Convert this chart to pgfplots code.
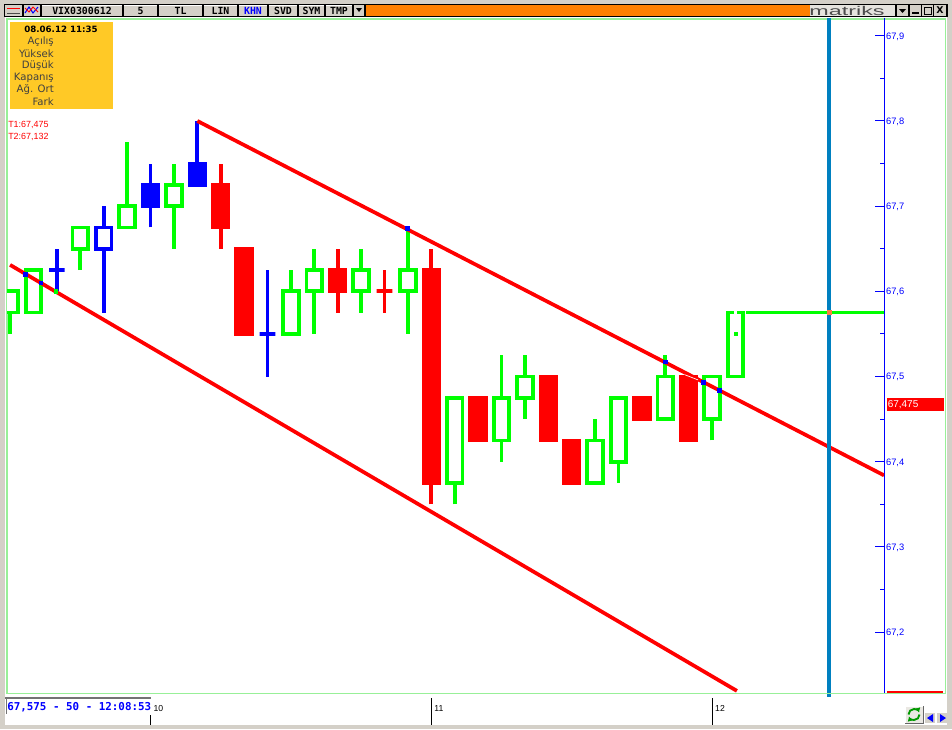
\documentclass[border=0pt]{standalone}
\usepackage{fontspec}
\usepackage{graphicx}
\usepackage{pgfplots}
\pgfplotsset{compat=1.18}
\usetikzlibrary{arrows.meta}
\setmainfont{Liberation Sans}
\newfontfamily\dejavu{DejaVu Sans}
\newfontfamily\mono{DejaVu Sans Mono}

\definecolor{cgreen}{HTML}{00FF00}
\definecolor{cblue}{HTML}{0000FF}
\definecolor{cred}{HTML}{FF0000}
\definecolor{vline}{HTML}{0080C0}
\definecolor{panel}{HTML}{D4D0C8}
\definecolor{infobox}{HTML}{FFC926}
\definecolor{barorange}{HTML}{FF8000}
\definecolor{framegreen}{HTML}{98F098}
\definecolor{crossing}{HTML}{FF8040}

% colour, fill, bar, low, body bottom, body top, high
\newcommand{\candle}[7]{%
  \pgfmathsetmacro\xa{#3-0.335}\pgfmathsetmacro\xb{#3+0.335}%
  \addplot[#1, line width=2.8pt] coordinates {(#3,#4)(#3,#7)};
  \addplot[draw=#1, fill=#2, line width=2.8pt, line join=miter]
    coordinates {(\xa,#5)(\xb,#5)(\xb,#6)(\xa,#6)} -- cycle;}
% toolbar button: left, right, text
\newcommand{\btn}[4][black]{%
  \fill[panel] (#2,5) rectangle (#3,16);
  \draw[white] (#2,5) -- (#3,5);
  \node[text=#1, font=\mono\bfseries\fontsize{7.4}{8}\selectfont, inner sep=0pt]
    at ({(#2+#3)/2},10.5) {#4};}

\begin{document}
\begin{tikzpicture}[x=0.75pt, y=-0.75pt]
\useasboundingbox (0,0) rectangle (952,729);
\fill[panel] (0,0) rectangle (952,729);
\fill[white] (5,17) rectangle (947,725);
\draw[framegreen, line width=1pt] (7,19) rectangle (945.5,693.5);

\begin{axis}[
  at={(5.25pt,-519.75pt)}, anchor=south west,
  scale only axis, width=657.75pt, height=506.25pt,
  xmin=-6.132, xmax=31.346, ymin=67.1285, ymax=67.9208,
  axis y line=right, axis x line=bottom,
  y axis line style={cblue, -, line width=0.75pt},
  x axis line style={draw=none},
  tick align=inside,
  ytick={67.2,67.3,67.4,67.5,67.6,67.7,67.8,67.9},
  minor y tick num=1,
  ytick style={cblue, line width=0.75pt},
  minor tick length=3pt,
  major tick length=6.75pt,
  yticklabel style={text=cblue, font=\fontsize{7}{8}\selectfont, anchor=west, xshift=-2pt, yshift=-0.6pt,
    /pgf/number format/.cd, fixed, fixed zerofill, precision=1, use comma, assume math mode=true},
  xtick={0,12,24},
  xticklabels={10,11,12},
  xtick style={draw=none},
  xticklabel style={font=\fontsize{6.5}{8}\selectfont, anchor=west, xshift=-1.2pt, yshift=-11.75pt},
]
\candle{cgreen}{white}{-6}{67.55}{67.575}{67.6}{67.6}
\candle{cgreen}{white}{-5}{67.575}{67.575}{67.625}{67.625}
\candle{cblue}{white}{-4}{67.6}{67.625}{67.625}{67.65}
\candle{cgreen}{white}{-3}{67.625}{67.65}{67.675}{67.675}
\candle{cblue}{white}{-2}{67.575}{67.65}{67.675}{67.7}
\candle{cgreen}{white}{-1}{67.675}{67.675}{67.7}{67.775}
\candle{cblue}{cblue}{0}{67.675}{67.7}{67.725}{67.75}
\candle{cgreen}{white}{1}{67.65}{67.7}{67.725}{67.75}
\candle{cblue}{cblue}{2}{67.725}{67.725}{67.75}{67.8}
\candle{cred}{cred}{3}{67.65}{67.675}{67.725}{67.75}
\candle{cred}{cred}{4}{67.55}{67.55}{67.65}{67.65}
\candle{cblue}{white}{5}{67.5}{67.55}{67.55}{67.625}
\candle{cgreen}{white}{6}{67.55}{67.55}{67.6}{67.625}
\candle{cgreen}{white}{7}{67.55}{67.6}{67.625}{67.65}
\candle{cred}{cred}{8}{67.575}{67.6}{67.625}{67.65}
\candle{cgreen}{white}{9}{67.575}{67.6}{67.625}{67.65}
\candle{cred}{cred}{10}{67.575}{67.6}{67.6}{67.625}
\candle{cgreen}{white}{11}{67.55}{67.6}{67.625}{67.675}
\candle{cred}{cred}{12}{67.35}{67.375}{67.625}{67.65}
\candle{cgreen}{white}{13}{67.35}{67.375}{67.475}{67.475}
\candle{cred}{cred}{14}{67.425}{67.425}{67.475}{67.475}
\candle{cgreen}{white}{15}{67.4}{67.425}{67.475}{67.525}
\candle{cgreen}{white}{16}{67.45}{67.475}{67.5}{67.525}
\candle{cred}{cred}{17}{67.425}{67.425}{67.5}{67.5}
\candle{cred}{cred}{18}{67.375}{67.375}{67.425}{67.425}
\candle{cgreen}{white}{19}{67.375}{67.375}{67.425}{67.45}
\candle{cgreen}{white}{20}{67.375}{67.4}{67.475}{67.475}
\candle{cred}{cred}{21}{67.45}{67.45}{67.475}{67.475}
\candle{cgreen}{white}{22}{67.45}{67.45}{67.5}{67.525}
\candle{cred}{cred}{23}{67.425}{67.425}{67.5}{67.5}
\candle{cgreen}{white}{24}{67.425}{67.45}{67.5}{67.5}
\candle{cgreen}{white}{25}{67.5}{67.5}{67.575}{67.575}
% last price line, the dot and the notch of the last bar
\addplot[cgreen, line width=2.8pt] coordinates {(25.45,67.575)(31.346,67.575)};
\addplot[only marks, mark=square*, mark size=1.1pt, cgreen] coordinates {(25,67.55)};
\addplot[white, line width=2.2pt] coordinates {(25,67.573)(25,67.577)};
% channel
\addplot[cred, line width=2.8pt] coordinates {(2,67.8)(31.346,67.384)};
\addplot[cred, line width=2.8pt] coordinates {(-6,67.631)(25.06,67.131)};
\addplot[white, line width=0.5pt] coordinates {(22.84,67.502)(23.4,67.496)};
% spots where a candle crosses the channel
\addplot[only marks, mark=square*, mark size=1.3pt, cblue] coordinates {(-5.36,67.62)(-4.68,67.61)(10.98,67.674)(21.99,67.517)(23.62,67.493)(24.31,67.484)};
\addplot[only marks, mark=square*, mark size=1.3pt, cgreen] coordinates {(-4.04,67.6)};
% cursor line
\addplot[vline, line width=3pt] coordinates {(29,67.1285)(29,67.9208)};
\addplot[only marks, mark=square*, mark size=1.5pt, mark options={draw=crossing, fill=crossing}] coordinates {(29,67.575)};
\end{axis}

% frame over the tick roots and cursor stub
\fill[vline] (827,693) rectangle (831,697);
\draw[framegreen, line width=1pt] (7,693.5) -- (945.5,693.5);

% x ticks
\draw[black, line width=0.75pt] (150.5,715) -- (150.5,725);
\draw[black, line width=0.75pt] (431.5,698) -- (431.5,725);
\draw[black, line width=0.75pt] (712,698) -- (712,725);

% price tags
\fill[cred] (887,398) rectangle (944,411);
\node[text=white, anchor=west, inner sep=0pt, font=\fontsize{7.5}{8}\selectfont] at (887.5,404.5) {67,475};
\fill[cred] (887,690.5) rectangle (943,692.5);

% info box
\fill[infobox] (10,22) rectangle (113,109);
\node[inner sep=0pt, font=\dejavu\bfseries\fontsize{6.5}{8}\selectfont] at (61,29.5) {08.06.12 11:35};
\foreach \y/\t in {42/Açılış,53.5/Yüksek,65.5/Düşük,78/Kapanış,90/Ağ. Ort,102/Fark}
  \node[anchor=east, inner sep=0pt, text=black!75, font=\dejavu\fontsize{7.6}{8}\selectfont] at (54,\y) {\t};
\node[anchor=west, inner sep=0pt, text=cred, font=\fontsize{6.7}{8}\selectfont] at (8,125) {T1:67,475};
\node[anchor=west, inner sep=0pt, text=cred, font=\fontsize{6.7}{8}\selectfont] at (8,137) {T2:67,132};

% toolbar
\fill[black] (4,4) rectangle (948,17);
\fill[barorange] (366,5) rectangle (810,16);
\fill[panel] (5,5) rectangle (22,16);
\draw[cred, line width=0.5pt] (7,8) -- (20,8);
\draw[black!70, line width=0.75pt] (7,13) -- (20,13);
\fill[panel] (24,5) rectangle (40,16);
\draw[cblue, line width=0.75pt] (25,13) -- (29,7) -- (33,13) -- (38,7);
\draw[cred, line width=0.75pt] (25,8) -- (29,12) -- (33,7) -- (38,12);
\btn{42}{122}{VIX0300612}
\btn{124}{157}{5}
\btn{159}{202}{TL}
\btn{204}{237}{LIN}
\btn[cblue]{239}{267}{KHN}
\btn{269}{297}{SVD}
\btn{299}{324}{SYM}
\btn{326}{352}{TMP}
\fill[panel] (354,5) rectangle (364,16);
\fill[black] (356,8) -- (362,8) -- (359,12) -- cycle;
\fill[panel!60!white] (810,5) rectangle (895,16);
\node[inner sep=0pt, text=black!70] at (847,10.5) {\scalebox{1.75}[0.95]{\fontsize{10}{10}\selectfont matriks}};
\fill[panel] (897,5) rectangle (908,16);
\fill[black] (899,9) -- (906,9) -- (902.5,13) -- cycle;
\fill[panel] (910,5) rectangle (921,16);
\fill[black] (912,12) rectangle (919,14);
\fill[panel] (922,5) rectangle (933,16);
\draw[black, line width=0.75pt] (924,7) rectangle (931,14);
\fill[panel] (934,5) rectangle (946,16);
\node[inner sep=0pt, font=\dejavu\bfseries\fontsize{7}{8}\selectfont] at (940,10.5) {X};

% status box
\fill[white] (7,698) rectangle (151,714);
\draw[black!55, line width=1pt] (5,698) -- (151,698);
\draw[black!55, line width=0.75pt] (6,698) -- (6,714);
\node[anchor=west, inner sep=0pt, text=cblue, font=\mono\bfseries\fontsize{8.15}{8}\selectfont] at (7,707) {67,575 - 50 - 12:08:53};

% scroll buttons
\fill[panel!50!white] (905,706) rectangle (923,723);
\draw[white, line width=0.75pt] (905,723) -- (905,706) -- (923,706);
\draw[black!60, line width=0.75pt] (905,723) -- (923,723) -- (923,706);
\draw[green!60!black, line width=1.4pt, -{Latex[length=3.5pt,width=4.5pt]}] (908.5,714.5) arc (180:340:5.5);
\draw[green!60!black, line width=1.4pt, -{Latex[length=3.5pt,width=4.5pt]}] (919.5,714.5) arc (0:160:5.5);
\fill[panel] (925,713) rectangle (935,723);
\fill[cblue] (933,714) -- (933,722) -- (927,718) -- cycle;
\fill[panel] (937,713) rectangle (947,723);
\fill[cblue] (940,714) -- (940,722) -- (946,718) -- cycle;
\end{tikzpicture}
\end{document}
